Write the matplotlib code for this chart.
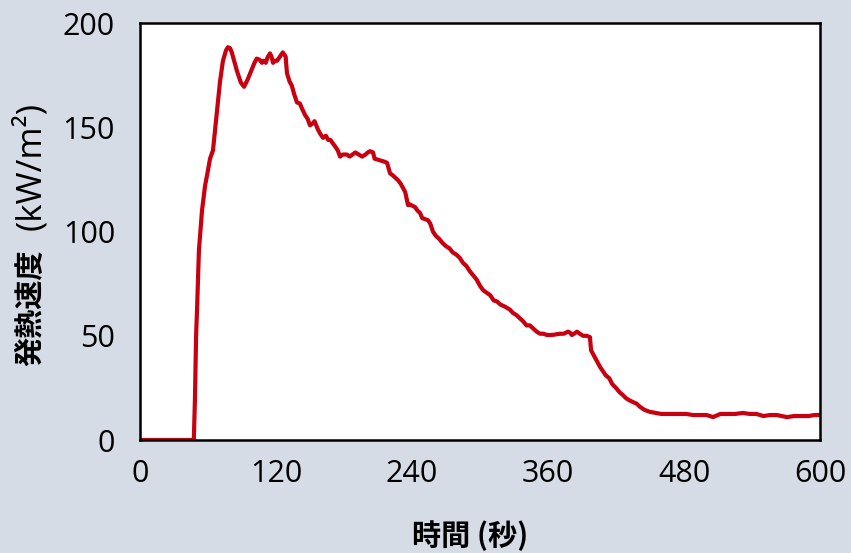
import matplotlib
matplotlib.use('Agg')
import matplotlib.pyplot as plt

plt.rcParams['font.family'] = ['Open Sans', 'Noto Sans CJK JP', 'DejaVu Sans']

# 時間 (秒) と 発熱速度 (kW/m²) — 10点ずつ対応
times = [0, 47.5, 48.5, 49.5, 50.3, 52, 54.7, 57.4, 59.5, 61.8,
         64.4, 67, 70.6, 73.2, 75.9, 77.6, 79.5, 81, 83, 85.6,
         89, 91.8, 95, 98.8, 101, 103, 105.5, 107.6, 109, 111,
         112.5, 114.7, 116, 117.4, 119, 121, 123.5, 126, 128.5, 129.7,
         132, 134, 136, 138.5, 141, 143, 145.6, 148, 150, 152.6,
         154, 157, 159, 161.5, 164, 166, 168, 170, 172, 174.5,
         176.5, 179, 182.6, 185, 187.5, 190, 193, 196, 199, 201,
         203, 205.6, 207, 210, 213, 216, 218, 220.6, 223, 225,
         227.6, 230, 232, 234, 236.5, 238.5, 240, 242.6, 245, 247,
         249, 251.5, 254, 256, 258.5, 261, 264, 267, 270, 273,
         276, 279, 282, 285, 288, 291, 294, 297, 300, 302.6,
         305, 309, 312, 315, 318, 322, 326.5, 329, 332, 335,
         338, 341, 344, 347, 350, 353, 356, 359, 362, 365,
         368, 370.6, 374, 377.6, 379.5, 381, 383, 385.6, 388, 391,
         394, 397, 398, 400, 403, 406, 408.5, 411, 414, 416.5,
         417.4, 420, 423, 426, 429, 432, 435, 438, 441, 445,
         450, 455, 460, 465, 470, 476, 482, 488, 494, 500,
         505.6, 512, 518, 525, 532, 538, 544, 550, 556, 562,
         566, 571, 577, 583, 590, 595, 600]
hrr = [0, 0, 20, 50, 62, 91, 110, 122, 128, 135,
       139, 153, 172, 182, 187, 188.5, 188, 186, 182, 177,
       171.5, 169.5, 173, 178, 181, 183, 182.5, 181, 182, 181,
       183.5, 185.5, 184, 181, 182, 182, 184, 186, 184, 176,
       172, 170, 166, 162, 161.5, 159, 156, 154, 151, 152,
       153, 149, 147, 145, 146, 144, 144, 142.5, 141, 139,
       136, 137, 137, 136, 137, 138, 137, 136, 137, 138,
       138.6, 138, 135, 134.5, 134, 133.5, 133, 128, 127, 126,
       124.7, 123, 121, 119, 112.7, 113, 112.5, 111.8, 110, 109,
       106.5, 106, 105.5, 104, 100, 98, 96.5, 94.5, 93, 92,
       90, 89, 87.5, 85, 83.5, 81, 79, 77, 74, 72,
       71, 69.5, 67, 66.5, 65, 64, 62.5, 61, 60, 58.5,
       57, 55, 55, 53.5, 52, 51, 51, 50.4, 50.4, 50.5,
       50.8, 51, 51, 52, 51.5, 50.4, 51, 52, 51, 50,
       50, 49.4, 43, 41, 38, 35, 33, 31, 29.7, 27,
       26.4, 25, 23, 21.6, 20, 19, 18.2, 17.5, 16, 14.5,
       13.5, 13, 12.5, 12.5, 12.5, 12.5, 12.5, 12, 12, 12,
       11, 12.5, 12.5, 12.5, 13, 12.5, 12.5, 11.5, 12, 12,
       11.5, 11, 11.5, 11.5, 11.5, 12, 12]

xticks = [0, 120, 240, 360, 480, 600]
yticks = [0, 50, 100, 150, 200]

bg = '#d6dce5'
fig = plt.figure(figsize=(8.51, 5.53), dpi=100, facecolor=bg)
ax = fig.add_axes([0.1645, 0.2043, 0.7991, 0.7537])
ax.set_facecolor('white')

ax.plot(times, hrr, color='#c8000f', linewidth=3.0, solid_joinstyle='round')

ax.set_xlim(0, 600)
ax.set_ylim(0, 200)
ax.set_xticks(xticks)
ax.set_yticks(yticks)
ax.tick_params(axis='both', length=0, labelsize=22, colors='black')
ax.tick_params(axis='x', pad=14)
ax.tick_params(axis='y', pad=18)

for s in ax.spines.values():
    s.set_color('black')
    s.set_linewidth(1.8)

# 軸ラベル（和文は太字、単位は通常）
fig.text(0.552, 0.031, '時間 (秒)', fontsize=21, fontweight='bold',
         family=['Noto Sans CJK JP'], ha='center', va='center')
fig.text(0.035, 0.444, '発熱速度', fontsize=21, fontweight='bold',
         family=['Noto Sans CJK JP'], rotation=90, ha='center', va='center')
fig.text(0.036, 0.70, '(kW/m²)', fontsize=25,
         rotation=90, ha='center', va='center')

fig.savefig('out.png', dpi=100, facecolor=bg)
